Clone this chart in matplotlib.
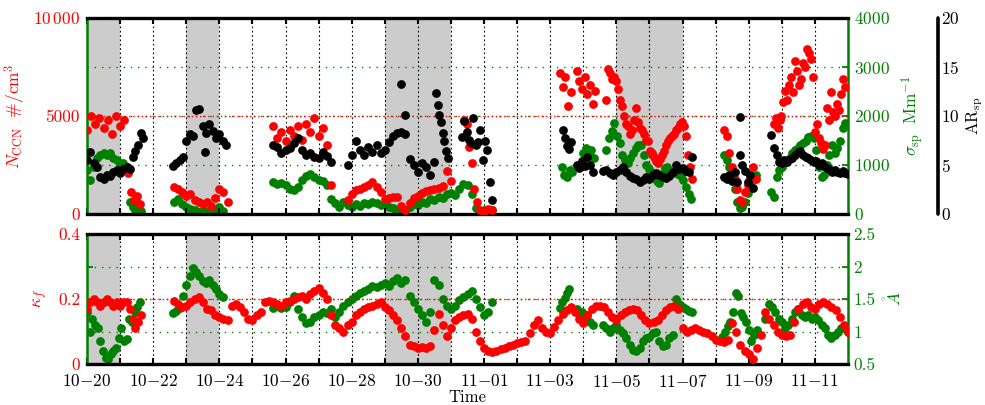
import numpy as np
import matplotlib
matplotlib.use("Agg")
import matplotlib.pyplot as plt

plt.rcParams['font.family'] = 'serif'
plt.rcParams['font.serif'] = ['cmr10']
plt.rcParams['mathtext.fontset'] = 'cm'
plt.rcParams['axes.unicode_minus'] = False
plt.rcParams['axes.formatter.use_mathtext'] = True
plt.rcParams['font.size'] = 12.5

RED = '#ff0000'
GREEN = '#008000'
GRAY = '#cccccc'

# time axis: days since 10-20 00:00
shade_spans = [(0, 1), (3, 4), (9, 11), (16, 18)]
tick_days = list(range(0, 23, 2))
tick_labels = ['10-20', '10-22', '10-24', '10-26', '10-28', '10-30',
               '11-01', '11-03', '11-05', '11-07', '11-09', '11-11']

# each segment: (start day, step in days, values)
nccn_segs = [
    (0.0, 0.125, [4300, 5000, 4600, 4900, 4400, 4800, 4100, 5000, 4500, 4800]),
    (1.25, 0.09, [2100, 1100, 700, 900, 500]),
    (2.625, 0.125, [1400, 1300, 1100, 900, 1000, 700, 600, 500, 600, 400, 800, 1300, 1100, 600]),
    (5.625, 0.125, [4500, 3900, 4200, 3700, 4300, 4000, 4500, 3800, 4600, 4200, 4900, 4000, 4400, 3500]),
    (7.375, 0.125, [1500]),
    (7.875, 0.125, [700, 1000, 1200, 1300, 1400, 1500, 1650, 1400, 1100, 750, 800, 850, 870,
                    400, 200, 550, 800, 900, 1050, 1150, 1200, 1300, 1350, 1450, 2200, 1700]),
    (11.4, 0.075, [4800, 4600, 3400, 2600, 1300, 600]),
    (11.875, 0.125, [200, 150, 250, 200]),
    (14.3, 0.08, [7200, 6500, 7000, 5500, 6200]),
    (14.8, 0.08, [7300, 6800, 6400, 7000, 6100, 6600, 5600, 6300]),
    (15.7, 0.06, [5800, 7400, 7200, 6900, 7000, 6800, 6400, 5800, 5500, 5000, 4600, 4500, 4100,
                  4300, 4800, 5400, 4700, 4400, 4300, 4100, 3800, 3700, 3200, 3100, 2900, 2700,
                  2600, 2800, 3000, 3200, 3500, 3700, 3900, 4000, 4100, 4300, 4400, 4600, 4700,
                  4500, 4000, 3000, 2400, 1800]),
    (19.25, 0.08, [4300, 4000, 3100, 2400, 1800, 1300, 700, 600, 1100, 1500, 1900, 2400, 1800]),
    (20.75, 0.06, [4600, 4900, 4400, 4800, 5000, 5700, 6300, 5800, 6600, 7000, 6200, 7800, 7300,
                   6600, 6900, 7700, 7500, 8400, 8200, 7900, 7000, 4200, 4600, 3900, 3600, 3300,
                   3500, 5400, 4800, 6200, 5200, 5000, 5600, 5300, 6100, 6900, 6500]),
]

sigma_segs = [
    (0.0, 0.1, [900, 700, 950, 1150, 1200, 1250, 1200, 1250, 1150, 1100, 1000, 1050, 950]),
    (1.3, 0.08, [250, 150, 80, 200, 60]),
    (2.625, 0.125, [250, 300, 200, 150, 100, 80, 50, 60, 40, 100, 80, 150, 60]),
    (5.625, 0.125, [650, 620, 640, 600, 520, 480, 550, 700, 780, 820, 760, 700, 680, 600]),
    (7.375, 0.125, [300, 220, 150, 250, 180, 150, 200, 170, 230, 200, 250, 220, 180, 200, 150,
                    120, 60, 20, 60, 150, 200, 180, 250, 220, 300, 280, 350, 330, 400, 420, 380,
                    500, 620, 600, 400, 120, 60, 80, 60, 80]),
    (14.35, 0.08, [950, 800, 750, 900, 850]),
    (15.0, 0.08, [1250, 1350, 1200, 1300, 1150]),
    (15.7, 0.08, [1300, 1550, 1700, 1850, 1600, 1450, 1200, 1100, 1050, 1150, 1250, 1350, 1400,
                  1400, 1200, 1000, 920, 850, 760, 680, 640, 820, 940, 950, 880, 860, 840, 820,
                  780, 700, 550, 400, 300]),
    (19.25, 0.08, [1200, 1100, 950, 800, 500, 250, 120, 150, 250, 420, 550, 700, 800]),
    (20.68, 0.08, [450, 350, 750, 900, 950, 1050, 1100, 1150, 1250, 1300, 1350, 1400, 1450, 1500,
                   1580, 1600, 1550, 1300, 950, 750, 800, 1000, 1200, 1400, 1250, 1350, 1500,
                   1750, 1850]),
]

ar_segs = [
    (0.0, 0.1, [5.5, 6.3, 5.2, 4.8, 3.8, 3.6, 4.0, 3.9, 4.3, 4.5, 4.2, 4.6, 4.8]),
    (1.3, 0.08, [4.6, 5.8, 6.4, 7.0, 8.3, 7.8]),
    (2.6, 0.1, [4.9, 5.2, 5.5, 5.8, 7.5, 8.2, 8.0, 10.6, 10.7, 9.0, 8.3, 9.2, 8.5, 7.8, 8.2, 7.5, 7.0]),
    (3.56, 0.1, [6.3]),
    (5.625, 0.125, [7.0, 6.8, 6.2, 6.5, 6.7, 7.2, 7.8, 6.5, 6.0, 6.2, 5.8, 5.7, 6.3, 5.9, 5.3]),
    (7.875, 0.125, [5.0, 6.0, 7.4, 6.5, 6.0, 6.8, 6.3, 7.0, 6.2, 6.5, 7.3, 8.0, 8.3, 8.4, 8.2]),
    (9.5, 0.12, [13.3, 10.1]),
    (9.75, 0.125, [5.6, 5.0, 4.3, 5.2, 4.8, 4.0, 5.3]),
    (10.55, 0.05, [12.3, 11.1, 10.1, 9.4, 8.3, 7.4, 6.4, 5.7]),
    (11.33, 0.07, [7.9, 9.5, 8.4, 7.6, 7.2, 9.8, 7.0, 7.3, 8.6, 5.5, 7.5, 6.5, 3.3, 1.4]),
    (14.4, 0.06, [8.6, 7.8, 6.9, 6.6, 7.3]),
    (14.8, 0.08, [5.0, 4.7, 5.4, 4.9, 5.8, 5.0, 4.3]),
    (15.6, 0.1, [4.4, 4.5, 4.2, 4.0, 4.3, 4.5, 4.8, 4.3, 3.9, 3.7, 3.6, 3.3, 3.5, 3.8, 3.6, 4.0,
                 4.2, 4.0, 3.8, 3.7, 3.9, 4.3, 5.0, 4.6, 4.7, 4.4, 4.3, 5.8]),
    (19.25, 0.08, [3.8, 3.6, 4.0, 3.4, 4.3, 3.3, 6.0, 5.0, 4.4, 3.3, 4.0, 2.7]),
    (19.73, 0.1, [9.9]),
    (20.68, 0.08, [8.1, 6.7, 6.0, 5.3, 5.2, 5.5, 5.3, 5.6, 5.7, 6.0, 6.3, 6.4, 6.0, 5.8, 5.7, 5.5,
                   5.3, 5.4, 5.0, 5.2, 4.9, 4.7, 4.6, 4.3, 4.5, 4.3, 4.2, 4.4, 4.2, 4.1]),
]

kappa_segs = [
    (0.0, 0.1, [0.17, 0.19, 0.2, 0.19, 0.18, 0.19, 0.2, 0.19, 0.18, 0.19, 0.18, 0.19, 0.19]),
    (1.3, 0.08, [0.17, 0.14, 0.11, 0.13, 0.15]),
    (2.625, 0.125, [0.195, 0.185, 0.175, 0.18, 0.19, 0.2, 0.205, 0.19,
                    0.17, 0.165, 0.15, 0.145, 0.14, 0.135, 0.18, 0.185,
                    0.175, 0.16, 0.14, 0.135, 0.15, 0.16, 0.19, 0.195,
                    0.19, 0.185, 0.18, 0.19, 0.195, 0.2, 0.205, 0.21,
                    0.2, 0.215, 0.225, 0.235, 0.22, 0.2, 0.15, 0.12,
                    0.11, 0.1, 0.12, 0.13, 0.15, 0.16, 0.17, 0.175,
                    0.18, 0.185, 0.19, 0.175, 0.165, 0.15, 0.135, 0.11,
                    0.085, 0.06, 0.055, 0.05, 0.052, 0.048, 0.055, 0.105,
                    0.155, 0.12, 0.085, 0.11, 0.135, 0.145, 0.15, 0.155,
                    0.14, 0.1, 0.07, 0.05, 0.04, 0.037, 0.04, 0.045,
                    0.05, 0.055, 0.06, 0.065, 0.068, 0.072, 0.095, 0.12,
                    0.135, 0.11, 0.1, 0.095, 0.115, 0.135, 0.155, 0.165,
                    0.175, 0.16, 0.14, 0.125, 0.15, 0.17, 0.18, 0.178,
                    0.175, 0.16, 0.145, 0.135, 0.15, 0.16, 0.165, 0.17,
                    0.165, 0.15, 0.135, 0.125, 0.13, 0.135, 0.15, 0.165,
                    0.175, 0.18, 0.17, 0.11, 0.1, 0.105, 0.11, 0.105,
                    0.1, 0.095, 0.085, 0.075, 0.07, 0.068, 0.075, 0.125,
                    0.1, 0.06, 0.04, 0.03, 0.015, 0.05, 0.09, 0.16,
                    0.14, 0.12, 0.1, 0.09, 0.085, 0.09, 0.13, 0.17,
                    0.185, 0.19, 0.175, 0.17, 0.185, 0.19, 0.185, 0.175,
                    0.165, 0.145, 0.12, 0.1]),
]

angstrom_segs = [
    (0.0, 0.08, [1.3, 1.0, 1.2, 1.1, 1.05, 0.85, 0.7, 0.6, 0.58, 0.65, 0.7, 0.75, 0.9, 1.05,
                 0.85, 0.88, 1.2, 1.15, 1.3, 1.38, 1.46]),
    (2.6, 0.1, [1.28, 1.32, 1.36, 1.55, 1.72, 1.85, 1.98, 1.92, 1.85, 1.78, 1.75, 1.8, 1.72,
                1.65, 1.58, 1.53]),
    (5.625, 0.125, [1.36, 1.4, 1.36, 1.38, 1.45, 1.55, 1.35, 1.23, 1.13, 1.15, 1.22, 1.25, 1.3,
                    1.28, 1.35, 1.22, 1.3, 1.4, 1.45, 1.5, 1.55, 1.6, 1.62, 1.65, 1.7, 1.68, 1.72,
                    1.75, 1.7, 1.78, 1.82, 1.75, 1.8, 1.55, 1.45, 1.35, 1.25, 1.15, 1.3, 1.8, 1.72,
                    1.5, 1.4, 1.35, 1.4, 1.48, 1.53, 1.58, 1.62, 1.5, 1.38, 1.25, 1.3, 1.45]),
    (14.3, 0.07, [1.36, 1.45, 1.52, 1.6, 1.65]),
    (14.8, 0.08, [1.35, 1.28, 1.3, 1.22, 1.25, 1.15, 1.1]),
    (15.6, 0.1, [1.1, 1.05, 1.0, 1.05, 1.1, 1.02, 0.98, 0.9, 0.8, 0.72, 0.7, 0.75, 0.85, 0.9,
                 0.92, 0.98, 1.0, 0.85, 0.78, 0.8, 0.9, 0.95, 1.5, 1.42, 1.38, 1.35, 1.32, 1.3]),
    (19.2, 0.08, [0.92, 1.0, 1.08, 1.15, 1.3, 1.6, 1.55, 1.28, 1.23, 1.15, 1.02, 0.85, 0.95, 1.02]),
    (20.5, 0.1, [1.2, 1.42, 1.38, 1.3, 1.2, 1.15, 1.05, 1.1, 1.2, 1.3, 1.35, 1.25, 1.22, 1.25,
                 1.2, 1.22, 1.18, 1.1, 1.05, 0.95, 0.9, 0.95, 1.0, 1.05, 1.07, 1.0]),
]


def unpack(segs):
    t, v = [], []
    for t0, dt, vals in segs:
        for i, y in enumerate(vals):
            t.append(t0 + i * dt)
            v.append(y)
    return np.array(t), np.array(v)


def dotted(ax, y, color, gap):
    ax.axhline(y, color=color, lw=1.0, ls=(0, (1, gap)), zorder=0.6)


W, H = 985, 405
L, R = 87, 848
fig = plt.figure(figsize=(W / 100, H / 100), dpi=100)
ax_n = fig.add_axes([L / W, 1 - 214 / H, (R - L) / W, 196 / H])
ax_k = fig.add_axes([L / W, 1 - 364 / H, (R - L) / W, 130 / H])

ms = 6.3
twins = []
for ax in (ax_n, ax_k):
    tw = ax.twinx()
    ax.set_zorder(1)
    tw.set_zorder(0)
    ax.patch.set_visible(False)
    tw.patch.set_visible(True)
    tw.patch.set_facecolor('white')
    for a, b in shade_spans:
        tw.axvspan(a, b, color=GRAY, lw=0, zorder=0)
    for d in range(1, 23):
        tw.axvline(d, color='k', lw=0.8, ls=(0, (1.5, 2.4)), zorder=0.5)
    ax.set_xlim(0, 23)
    ax.set_xticks(range(0, 23))
    ax.set_xticklabels([tick_labels[tick_days.index(d)].replace('-', '{-}').join('$$')
                        if d in tick_days else '' for d in range(0, 23)])
    ax.tick_params(axis='x', direction='in', top=True, bottom=True, length=4, width=1.5, pad=6.5)
    ax.tick_params(axis='y', length=0, labelcolor=RED, pad=5)
    for s in ('top', 'bottom'):
        ax.spines[s].set_linewidth(2.4)
    ax.spines['left'].set_color(GREEN)
    ax.spines['left'].set_linewidth(1.8)
    ax.spines['right'].set_visible(False)
    for s in ('top', 'bottom', 'left'):
        tw.spines[s].set_visible(False)
    tw.spines['right'].set_color(GREEN)
    tw.spines['right'].set_linewidth(1.8)
    tw.tick_params(axis='y', direction='in', length=4, width=1.3, color=GREEN,
                   labelcolor=GREEN, pad=4)
    twins.append(tw)

tw_s, tw_a = twins

# top panel: N_CCN, sigma_sp, AR_sp
ax_n.set_ylim(0, 10000)
ax_n.set_yticks([0, 5000, 10000])
ax_n.set_yticklabels(['0', '5000', r'$10\,000$'])
ax_n.tick_params(labelbottom=False)
tw_s.set_ylim(0, 4000)
tw_s.set_yticks([0, 1000, 2000, 3000, 4000])
for v in (1000, 2000, 3000):
    dotted(tw_s, v, GREEN, 4.2)
dotted(ax_n, 5000, RED, 2.0)

t, v = unpack(sigma_segs)
tw_s.plot(t, v, 'o', ms=ms, mew=0, color=GREEN, zorder=3)
t, v = unpack(nccn_segs)
ax_n.plot(t, v, 'o', ms=ms, mew=0, color=RED, zorder=3)

ax_ar = ax_n.twinx()
ax_ar.set_zorder(2)
ax_ar.set_ylim(0, 20)
ax_ar.set_yticks([0, 5, 10, 15, 20])
for s in ('top', 'bottom', 'left'):
    ax_ar.spines[s].set_visible(False)
ax_ar.spines['right'].set_position(('axes', (938 - L) / (R - L)))
ax_ar.spines['right'].set_linewidth(2.6)
ax_ar.spines['right'].set_capstyle('round')
ax_ar.tick_params(axis='y', length=0, pad=2.5)
t, v = unpack(ar_segs)
ax_ar.plot(t, v, 'o', ms=ms, mew=0, color='black', zorder=3)

ax_n.set_ylabel(r'$N_{\rm CCN}\ \ \#/{\rm cm}^3$', color=RED)
ax_n.yaxis.set_label_coords(-0.077, 0.5)
tw_s.set_ylabel(r'$\sigma_{\rm sp}\ \ {\rm Mm}^{-1}$', color=GREEN)
tw_s.yaxis.set_label_coords(1.068, 0.5)
ax_ar.set_ylabel(r'${\rm AR}_{\rm sp}$', fontsize=12)
ax_ar.yaxis.set_label_coords(1.153, 0.5)

# bottom panel: kappa_f, Angstrom exponent
ax_k.set_ylim(0, 0.4)
ax_k.set_yticks([0, 0.2, 0.4])
ax_k.set_yticklabels(['0', '0.2', '0.4'])
tw_a.set_ylim(0.5, 2.5)
tw_a.set_yticks([0.5, 1, 1.5, 2, 2.5])
tw_a.set_yticklabels(['0.5', '1', '1.5', '2', '2.5'])
tw_a.tick_params(axis='y', left=True)
for v in (1, 1.5, 2):
    dotted(tw_a, v, GREEN, 4.2)
dotted(ax_k, 0.2, RED, 2.0)

t, v = unpack(angstrom_segs)
tw_a.plot(t, v, 'o', ms=ms, mew=0, color=GREEN, zorder=3)
t, v = unpack(kappa_segs)
ax_k.plot(t, v, 'o', ms=ms, mew=0, color=RED, zorder=3)

ax_k.set_ylabel(r'$\kappa_f$', color=RED)
ax_k.yaxis.set_label_coords(-0.049, 0.5)
tw_a.set_ylabel(r'$\mathring{A}$', color=GREEN)
tw_a.yaxis.set_label_coords(1.046, 0.5)
ax_k.set_xlabel('Time', fontsize=12)
ax_k.xaxis.set_label_coords(0.5, -0.2)

fig.savefig('out.png', dpi=100)
